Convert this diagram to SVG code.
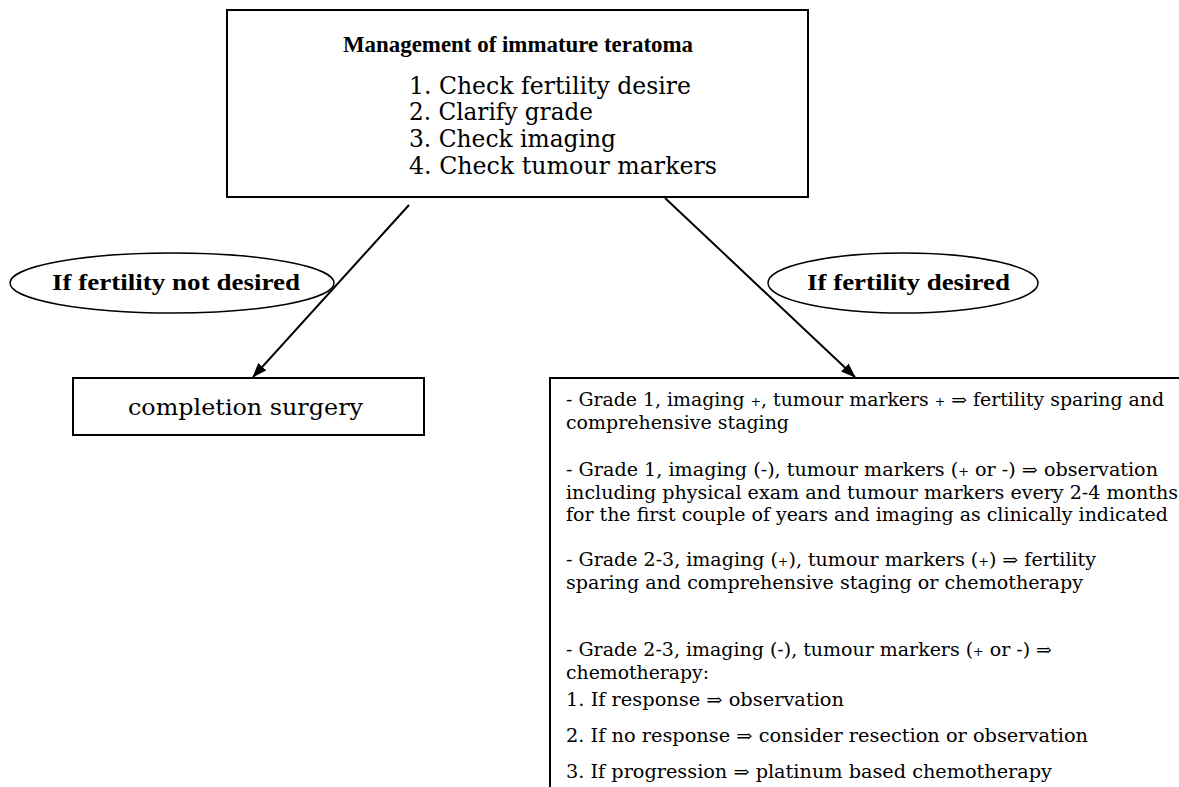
<svg xmlns="http://www.w3.org/2000/svg" width="1179" height="787" viewBox="0 0 1179 787">
<style>
.box{fill:#fff;stroke:#000;stroke-width:2}
.ell{fill:#fff;stroke:#000;stroke-width:1.5}
.t{font-family:"DejaVu Serif","Liberation Serif",serif;fill:#000}
.lb{font-family:"Liberation Serif","DejaVu Serif",serif;font-weight:bold;fill:#000}
.conn{stroke:#000;stroke-width:2;fill:none}
.sm{font-size:12px}
</style>
<defs>
<marker id="ah" markerWidth="7.5" markerHeight="5.5" refX="7" refY="2.75" orient="auto" markerUnits="strokeWidth">
<path d="M0,0 L7.5,2.75 L0,5.5 Z" fill="#000"/>
</marker>
</defs>
<rect width="1179" height="787" fill="#fff"/>
<g id="connectors">
<line class="conn" x1="409" y1="205" x2="253" y2="377" marker-end="url(#ah)"/>
<line class="conn" x1="665" y1="198" x2="855" y2="377" marker-end="url(#ah)"/>
</g>
<g id="top">
<rect class="box" x="227" y="10" width="581" height="187"/>
<text class="lb" x="343" y="52" font-size="23" textLength="350" lengthAdjust="spacingAndGlyphs">Management of immature teratoma</text>
<text class="t" font-size="24" x="409" y="94" textLength="282" lengthAdjust="spacingAndGlyphs">1. Check fertility desire</text>
<text class="t" font-size="24" x="409" y="120" textLength="184" lengthAdjust="spacingAndGlyphs">2. Clarify grade</text>
<text class="t" font-size="24" x="409" y="147" textLength="207" lengthAdjust="spacingAndGlyphs">3. Check imaging</text>
<text class="t" font-size="24" x="409" y="174" textLength="308" lengthAdjust="spacingAndGlyphs">4. Check tumour markers</text>
</g>
<g id="lbl-no">
<ellipse class="ell" cx="172" cy="283" rx="162" ry="30"/>
<text class="lb" x="52" y="290" font-size="24" textLength="248" lengthAdjust="spacingAndGlyphs">If fertility not desired</text>
</g>
<g id="lbl-yes">
<ellipse class="ell" cx="903" cy="283" rx="135" ry="30"/>
<text class="lb" x="807" y="290" font-size="24" textLength="203" lengthAdjust="spacingAndGlyphs">If fertility desired</text>
</g>
<g id="completion">
<rect class="box" x="73" y="378" width="351" height="57"/>
<text class="t" x="128" y="415" font-size="23" textLength="235" lengthAdjust="spacingAndGlyphs">completion surgery</text>
</g>
<g id="fertility">
<rect class="box" x="550" y="378" width="640" height="420"/>
<g class="t" font-size="18">
<text x="566" y="406" textLength="598" lengthAdjust="spacingAndGlyphs">- Grade 1, imaging <tspan class="sm">+</tspan>, tumour markers <tspan class="sm">+</tspan> ⇒ fertility sparing and</text>
<text x="566" y="429" textLength="223" lengthAdjust="spacingAndGlyphs">comprehensive staging</text>
<text x="566" y="476" textLength="592" lengthAdjust="spacingAndGlyphs">- Grade 1, imaging (-), tumour markers (<tspan class="sm">+</tspan> or -) ⇒ observation</text>
<text x="566" y="499" textLength="612" lengthAdjust="spacingAndGlyphs">including physical exam and tumour markers every 2-4 months</text>
<text x="566" y="521" textLength="602" lengthAdjust="spacingAndGlyphs">for the first couple of years and imaging as clinically indicated</text>
<text x="566" y="566" textLength="530" lengthAdjust="spacingAndGlyphs">- Grade 2-3, imaging (<tspan class="sm">+</tspan>), tumour markers (<tspan class="sm">+</tspan>) ⇒ fertility</text>
<text x="566" y="589" textLength="517" lengthAdjust="spacingAndGlyphs">sparing and comprehensive staging or chemotherapy</text>
<text x="566" y="656" textLength="486" lengthAdjust="spacingAndGlyphs">- Grade 2-3, imaging (-), tumour markers (<tspan class="sm">+</tspan> or -) ⇒</text>
<text x="566" y="679" textLength="143" lengthAdjust="spacingAndGlyphs">chemotherapy:</text>
<text x="566" y="706" textLength="278" lengthAdjust="spacingAndGlyphs">1. If response ⇒ observation</text>
<text x="566" y="742" textLength="522" lengthAdjust="spacingAndGlyphs">2. If no response ⇒ consider resection or observation</text>
<text x="566" y="778" textLength="486" lengthAdjust="spacingAndGlyphs">3. If progression ⇒ platinum based chemotherapy</text>
</g>
</g>
</svg>
